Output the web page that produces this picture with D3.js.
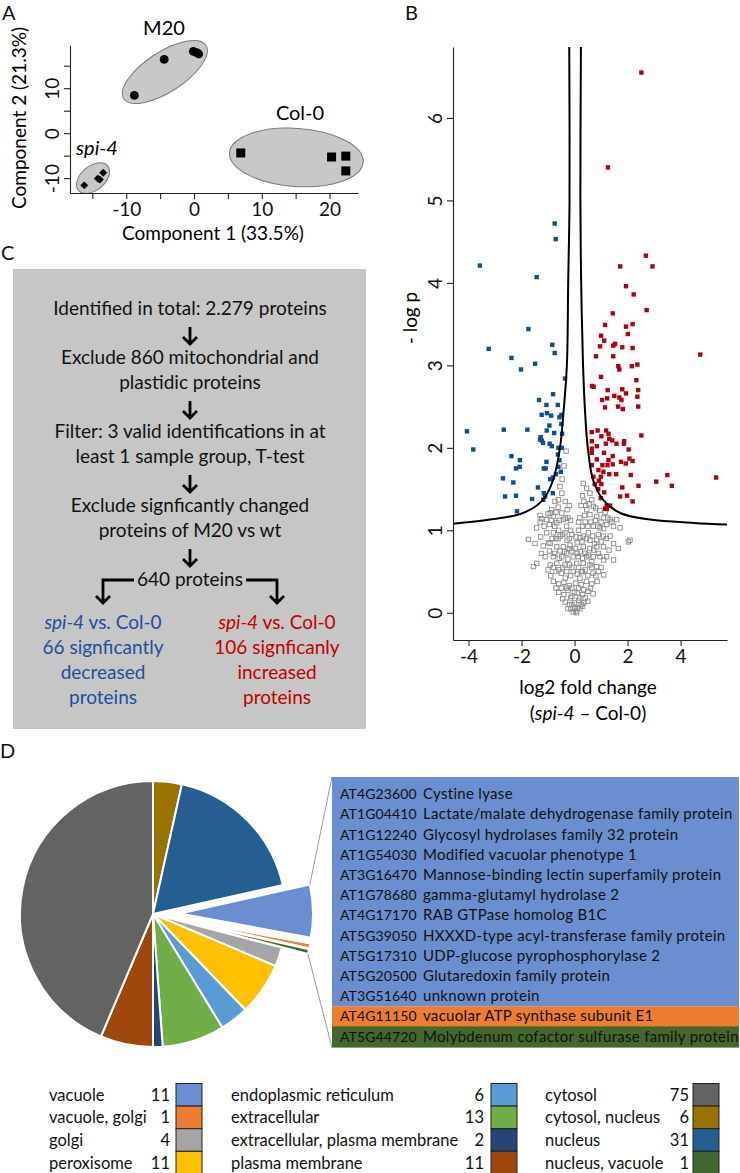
<!DOCTYPE html>
<html>
<head>
<meta charset="utf-8">
<script src="https://cdn.jsdelivr.net/npm/d3@7"></script>
<style>
body{margin:0;background:#fff;}
svg{display:block;font-family:Lato,"Noto Sans",sans-serif;}
</style>
</head>
<body>
<svg id="fig" width="740" height="1173"></svg>
<script>
// ---- panel A: PCA scores ----
var pcaSpi=[[-16.2,-11.6],[-14.2,-10.1],[-13.9,-10.3],[-13.4,-8.8]];
var pcaM20=[[-8.8,8.4],[-4.4,16.4],[-0.1,18.2],[0.4,17.9],[0.7,17.6]];
var pcaCol=[[6.9,-4.4],[20.3,-5.3],[22.4,-5.1],[22.4,-8.4]];
var pcaXTicks=[-15,-10,-5,0,5,10,15,20];
var pcaYTicks=[-10,-5,0,5,10,15];

// ---- panel B: volcano ----
var volDown=[[-0.75,4.72],[-0.71,4.53],[-3.57,4.21],[-1.43,4.07],
 [-1.74,3.44],[-3.24,3.20],[-0.84,3.25],[-0.75,3.15],[-2.38,3.09],[-1.49,3.02],[-2.02,2.95],[-0.36,2.84],
 [-1.34,2.58],[-0.81,2.65],[-1.06,2.52],[-0.63,2.52],[-1.24,2.40],[-1.04,2.42],[-0.88,2.39],[-0.50,2.40],
 [-0.57,2.37],[-0.95,2.27],[-0.50,2.29],[-4.06,2.20],[-2.67,2.22],[-1.78,2.22],[-1.05,2.21],[-0.77,2.18],
 [-0.47,2.17],[-1.28,2.13],[-1.24,2.09],[-1.19,2.06],[-0.94,2.05],[-1.30,2.10],[-3.82,1.98],[-0.86,2.02],
 [-0.61,2.00],[-0.48,2.00],[-0.63,1.92],[-2.38,1.90],[-2.06,1.85],[-1.06,1.83],[-0.57,1.85],[-2.21,1.75],
 [-2.07,1.77],[-1.16,1.75],[-1.09,1.75],[-0.61,1.77],[-0.70,1.68],[-0.52,1.71],[-2.70,1.63],[-0.92,1.62],
 [-0.82,1.64],[-2.31,1.58],[-1.38,1.52],[-2.62,1.41],[-2.21,1.42],[-1.60,1.38],[-1.16,1.45],[-1.11,1.41],
 [-1.18,1.37],[-0.82,1.45],[-2.17,1.23]];
var volUp=[[2.52,6.55],[1.26,5.40],[2.69,4.33],[1.72,4.20],[2.94,4.20],
 [1.94,3.96],[2.23,3.86],[2.72,3.67],[1.44,3.63],[1.15,3.49],[1.94,3.47],[2.19,3.50],[1.00,3.36],[2.01,3.38],
 [1.12,3.30],[0.96,3.23],[1.53,3.26],[1.46,3.24],[1.80,3.22],[2.19,3.21],[0.81,3.11],[1.46,3.11],[4.74,3.13],
 [2.37,3.01],[1.65,2.99],[1.69,2.95],[2.16,2.99],[1.00,2.86],[2.33,2.82],[0.66,2.75],[0.72,2.74],[1.25,2.70],
 [1.80,2.71],[2.40,2.70],[1.94,2.66],[1.50,2.63],[1.69,2.61],[1.23,2.60],[1.04,2.58],[1.77,2.58],[2.37,2.62],
 [1.64,2.50],[1.82,2.47],[1.15,2.49],[2.40,2.50],[0.87,2.21],[0.65,2.19],[1.19,2.21],[1.28,2.17],[1.01,2.14],
 [1.31,2.11],[2.52,2.15],[0.65,2.08],[1.42,2.09],[1.18,2.05],[1.58,2.05],[1.87,2.08],[1.86,2.05],[0.84,2.02],
 [0.65,1.99],[2.04,1.98],[0.65,1.94],[1.11,1.94],[1.44,1.90],[0.84,1.86],[1.28,1.85],[1.75,1.83],[1.93,1.81],
 [2.07,1.87],[2.19,1.84],[0.65,1.79],[1.05,1.79],[1.24,1.79],[1.44,1.80],[0.90,1.73],[1.09,1.71],[0.71,1.65],
 [0.99,1.65],[1.31,1.68],[1.57,1.68],[2.12,1.67],[3.50,1.67],[5.34,1.64],[0.92,1.60],[3.08,1.59],[0.76,1.56],
 [1.01,1.56],[2.41,1.54],[3.67,1.54],[0.89,1.50],[1.80,1.52],[1.12,1.46],[0.99,1.39],[1.72,1.41],[1.98,1.42],
 [2.19,1.35],[1.21,1.30],[1.34,1.30],[1.15,1.26],[1.22,1.26]];
var volNs=[[-0.32,1.96],[-0.40,1.78],[-0.47,1.62],[-0.55,1.53],[-0.48,1.45],[-0.61,1.37],[-0.74,1.35],
 [-0.86,1.25],[-0.92,1.21],[-0.80,1.17],[-1.24,1.14],[-1.05,1.13],[-0.95,1.07],[-0.67,1.09],[-0.48,1.21],
 [-0.42,1.13],[-0.30,1.05],[-0.36,0.97],[-0.55,0.93],[-0.80,0.97],[-1.05,0.97],[-1.43,1.03],[-1.74,0.89],
 [-1.49,0.84],[-1.18,0.81],[-0.92,0.84],[-0.67,0.80],[-0.42,0.80],[-0.17,0.82],[-1.11,0.68],[-0.80,0.68],
 [-0.48,0.68],[-0.92,0.58],[-0.67,0.60],[-1.43,0.60],[-1.55,0.56],[-0.36,0.58],
 [0.33,1.57],[0.46,1.51],[0.58,1.45],[0.65,1.37],[0.71,1.29],[0.46,1.25],[0.58,1.19],[0.84,1.17],[1.09,1.15],
 [1.34,1.13],[1.59,1.13],[1.72,1.03],[1.47,1.05],[1.21,1.07],[0.96,1.03],[0.71,1.05],[0.52,0.97],[0.33,0.93],
 [0.21,0.91],[0.58,0.88],[0.84,0.88],[1.09,0.93],[1.34,0.93],[1.47,0.84],[1.09,0.80],[0.84,0.80],[0.58,0.78],
 [0.33,0.80],[0.46,0.68],[0.71,0.68],[0.96,0.68],[1.21,0.68],[1.47,0.64],[0.33,0.60],[0.58,0.58],[0.84,0.56],
 [2.03,0.86],[2.09,0.88],[1.65,0.78],[0.08,0.60],[0.14,0.68],
 [-0.20,1.30],[-0.25,1.15],[-0.15,1.00],[-0.20,0.90],[-0.10,0.75],[-0.25,0.65],[-0.10,0.55],[0.10,0.85],
 [0.15,1.00],[0.20,1.15],[0.25,1.30],[0.30,1.42],[0.10,0.72],[0.25,0.50],[-0.60,1.00],[-0.70,0.90],[0.40,1.10],
 [0.50,1.05],[0.90,0.95],[1.00,1.10],[-0.55,0.75],[-0.30,0.72],[0.40,0.72],[0.65,0.62],
 [-0.90,0.45],[-0.70,0.50],[-0.50,0.48],[-0.30,0.50],[-0.15,0.45],[0.10,0.47],[0.30,0.50],[0.50,0.45],
 [0.70,0.48],[0.90,0.50],[1.10,0.46],[-0.80,0.38],[-0.60,0.35],[-0.40,0.37],[-0.20,0.33],[0.05,0.36],
 [0.25,0.34],[0.45,0.38],[0.65,0.35],[0.85,0.38],[-0.60,0.25],[-0.40,0.22],[-0.25,0.27],[-0.10,0.20],
 [0.10,0.24],[0.30,0.22],[0.50,0.26],[0.70,0.23],[-0.35,0.13],[-0.20,0.10],[0.00,0.12],[0.15,0.15],
 [0.35,0.12],[0.50,0.14],[-0.15,0.05],[0.05,0.02],[0.10,0.06],[-0.05,0.01],[0.20,0.05],
 [-0.35,1.35],[-0.28,1.25],[-0.62,1.28],[-0.70,1.22],[0.35,1.35],[0.42,1.30],[0.55,1.32],[0.80,1.27],
 [0.95,1.24],[1.15,1.22],[-1.00,1.20],[-1.30,1.18],[-0.15,1.12],[-0.35,1.15],[-0.58,1.12],[-0.75,1.05],
 [-0.88,1.12],[-1.15,1.05],[-1.30,1.10],[0.15,1.10],[0.30,1.05],[0.38,1.18],[0.62,1.10],[0.78,1.12],
 [0.88,1.05],[1.10,1.02],[1.25,1.15],[1.40,1.10],[-0.10,0.95],[-0.28,0.88],[-0.45,0.95],[-0.62,0.90],
 [-0.85,0.90],[-0.98,0.85],[-1.28,0.92],[0.05,0.92],[0.28,0.86],[0.45,0.90],[0.68,0.93],[0.75,0.84],
 [1.00,0.86],[1.20,0.90],[-0.05,0.68],[-0.20,0.78],[-0.38,0.74],[-0.58,0.66],[-0.75,0.72],[-0.95,0.75],
 [-1.25,0.72],[0.02,0.78],[0.22,0.74],[0.30,0.66],[0.52,0.70],[0.72,0.76],[0.90,0.72],[1.10,0.64],
 [1.30,0.76],[-0.05,0.50],[-0.20,0.58],[-0.45,0.55],[-0.60,0.52],[-0.80,0.55],[-1.00,0.52],[0.15,0.55],
 [0.40,0.52],[0.65,0.55],[0.80,0.45],[1.00,0.55],[-0.35,0.42],[0.20,0.42],[-0.10,0.30],[-0.30,0.30],
 [-0.50,0.30],[-0.70,0.30],[0.15,0.30],[0.35,0.28],[0.60,0.30],[0.40,0.18],[-0.15,0.18],[0.00,0.25],
 [0.20,0.18],[-0.45,0.17],[-0.25,0.05],[0.30,0.08],[-0.10,0.10],[0.25,0.10],[0.00,0.05],[0.08,0.00]];
// significance threshold curves
var thrLeft=[[-0.20,6.86],[-0.19,5.0],[-0.24,4.0],[-0.29,3.0],[-0.42,2.42],[-0.55,2.0],[-0.81,1.61],
 [-1.19,1.37],[-1.94,1.21],[-3.19,1.13],[-4.58,1.08]];
var thrRight=[[0.24,6.86],[0.22,5.0],[0.25,4.0],[0.32,3.0],[0.40,2.42],[0.50,2.0],[0.70,1.61],
 [1.08,1.37],[1.72,1.21],[2.85,1.13],[4.50,1.09],[5.75,1.07]];
var volXTicks=[-4,-2,0,2,4];
var volYTicks=[0,1,2,3,4,5,6];

// ---- panel C: workflow ----
var flowSteps=[
  ["Identified in total: 2.279 proteins"],
  ["Exclude 860 mitochondrial and","plastidic proteins"],
  ["Filter: 3 valid identifications in at","least 1 sample group, T-test"],
  ["Exclude signficantly changed","proteins of M20 vs wt"],
  ["640 proteins"]
];
var branchLeft=["66 signficantly","decreased","proteins"];
var branchRight=["106 signficanly","increased","proteins"];

// ---- panel D: localisation ----
var locNames=["vacuole","vacuole, golgi","golgi","peroxisome",
  "endoplasmic reticulum","extracellular","extracellular, plasma membrane","plasma membrane",
  "cytosol","cytosol, nucleus","nucleus","nucleus, vacuole"];
var locCounts=[11,1,4,11,6,13,2,11,75,6,31,1];
var locColors=["#6a8ed0","#ed7d31","#a5a5a5","#ffc000","#5b9bd5","#70ad47","#264478","#9e480e",
  "#636363","#997300","#255e91","#43682b"];
var pieOrder=["cytosol, nucleus","nucleus","vacuole","vacuole, golgi","nucleus, vacuole","golgi",
  "peroxisome","endoplasmic reticulum","extracellular","extracellular, plasma membrane","plasma membrane","cytosol"];
var explodedLocs=["vacuole","vacuole, golgi","nucleus, vacuole"];
var tableIds=["AT4G23600","AT1G04410","AT1G12240","AT1G54030","AT3G16470","AT1G78680","AT4G17170",
  "AT5G39050","AT5G17310","AT5G20500","AT3G51640","AT4G11150","AT5G44720"];
var tableDescs=["Cystine lyase","Lactate/malate dehydrogenase family protein","Glycosyl hydrolases family 32 protein",
  "Modified vacuolar phenotype 1","Mannose-binding lectin superfamily protein","gamma-glutamyl hydrolase 2",
  "RAB GTPase homolog B1C","HXXXD-type acyl-transferase family protein","UDP-glucose pyrophosphorylase 2",
  "Glutaredoxin family protein","unknown protein","vacuolar ATP synthase subunit E1","Molybdenum cofactor sulfurase family protein"];
var tableLocs=["vacuole","vacuole","vacuole","vacuole","vacuole","vacuole","vacuole","vacuole","vacuole",
  "vacuole","vacuole","vacuole, golgi","nucleus, vacuole"];

var colorOf=d3.scaleOrdinal().domain(locNames).range(locColors);
var countOf={};locNames.forEach(function(n,i){countOf[n]=locCounts[i];});

var FS=19; // main text size
var svg=d3.select("#fig");
svg.append("rect").attr("width",740).attr("height",1173).attr("fill","#fff");

function panelLabel(t,x,y){
  svg.append("text").attr("x",x).attr("y",y).attr("font-size",20).attr("fill","#111").text(t);
}

// R-like axes: outward ticks, labels parallel to axis
function styleAxis(g,vertical){
  g.select(".domain").attr("stroke","#222").attr("stroke-width",1.1);
  g.selectAll(".tick line").attr("stroke","#222").attr("stroke-width",1.1);
  g.selectAll(".tick text").attr("font-size",FS).attr("fill","#111").attr("font-family","Lato");
  if(vertical){
    g.selectAll(".tick text").attr("transform","rotate(-90)").attr("x",0).attr("y",-18)
      .attr("dy","0.36em").attr("text-anchor","middle");
  } else {
    g.selectAll(".tick text").attr("y",16).attr("dy","0.36em");
  }
}

// ================= A =================
panelLabel("A",2,20);
var xA=d3.scaleLinear().domain([-18.3,24.2]).range([70,358]);
var yA=d3.scaleLinear().domain([-13.3,19.6]).range([193,45]);
var gA=svg.append("g");

var ellipses=[
  {pts:pcaSpi,c:[-14.9,-10.0],rx:19,ry:12,rot:-40},
  {pts:pcaM20,c:[-4.3,13.6],rx:49,ry:20,rot:-33},
  {pts:pcaCol,c:[15.1,-5.4],rx:67,ry:29,rot:4}
];
gA.selectAll("ellipse").data(ellipses).enter().append("ellipse")
  .attr("transform",function(d){return "translate("+xA(d.c[0])+","+yA(d.c[1])+") rotate("+d.rot+")";})
  .attr("rx",function(d){return d.rx;}).attr("ry",function(d){return d.ry;})
  .attr("fill","#c8c8c8").attr("stroke","#7a7a7a").attr("stroke-width",1);

gA.selectAll(".spi").data(pcaSpi).enter().append("path")
  .attr("d",d3.symbol(d3.symbolDiamond2,40))
  .attr("transform",function(d){return "translate("+xA(d[0])+","+yA(d[1])+")";}).attr("fill","#000");
gA.selectAll(".m20").data(pcaM20).enter().append("circle")
  .attr("cx",function(d){return xA(d[0]);}).attr("cy",function(d){return yA(d[1]);})
  .attr("r",4.4).attr("fill","#000");
gA.selectAll(".col").data(pcaCol).enter().append("rect")
  .attr("x",function(d){return xA(d[0])-4.5;}).attr("y",function(d){return yA(d[1])-4.5;})
  .attr("width",9).attr("height",9).attr("fill","#000");

var axAx=gA.append("g").attr("transform","translate(0,193)")
  .call(d3.axisBottom(xA).tickValues(pcaXTicks).tickSize(6).tickSizeOuter(0)
    .tickFormat(function(d){return d%10===0?String(d):"";}));
styleAxis(axAx,false);
var axAy=gA.append("g").attr("transform","translate(70,0)")
  .call(d3.axisLeft(yA).tickValues(pcaYTicks).tickSize(6).tickSizeOuter(0)
    .tickFormat(function(d){return d%10===0?String(d):"";}));
styleAxis(axAy,true);

gA.append("text").attr("x",164).attr("y",35).attr("text-anchor","middle").attr("font-size",20).text("M20");
gA.append("text").attr("x",300).attr("y",120).attr("text-anchor","middle").attr("font-size",20).text("Col-0");
gA.append("text").attr("x",97).attr("y",155).attr("text-anchor","middle").attr("font-size",20)
  .attr("font-style","italic").text("spi-4");
gA.append("text").attr("x",213).attr("y",240).attr("text-anchor","middle").attr("font-size",FS).text("Component 1 (33.5%)");
gA.append("text").attr("transform","translate(26,118) rotate(-90)").attr("text-anchor","middle")
  .attr("font-size",FS).text("Component 2 (21.3%)");

// ================= B =================
panelLabel("B",405,20);
var xB=d3.scaleLinear().domain([-4.585,5.75]).range([453,727]);
var yB=d3.scaleLinear().domain([-0.33,6.86]).range([640,47]);
var gB=svg.append("g");

gB.selectAll(".ns").data(volNs).enter().append("rect")
  .attr("x",function(d){return xB(d[0])-2.2;}).attr("y",function(d){return yB(d[1])-2.2;})
  .attr("width",4.4).attr("height",4.4).attr("fill","none").attr("stroke","#8a8a8a").attr("stroke-width",0.9);
gB.selectAll(".dn").data(volDown).enter().append("rect")
  .attr("x",function(d){return xB(d[0])-2.2;}).attr("y",function(d){return yB(d[1])-2.2;})
  .attr("width",4.4).attr("height",4.4).attr("fill","#0e4d9b");
gB.selectAll(".up").data(volUp).enter().append("rect")
  .attr("x",function(d){return xB(d[0])-2.2;}).attr("y",function(d){return yB(d[1])-2.2;})
  .attr("width",4.4).attr("height",4.4).attr("fill","#b3000f");

var thrLine=d3.line().x(function(d){return xB(d[0]);}).y(function(d){return yB(d[1]);})
  .curve(d3.curveCatmullRom.alpha(0.5));
[thrLeft,thrRight].forEach(function(c){
  gB.append("path").attr("d",thrLine(c)).attr("fill","none").attr("stroke","#000").attr("stroke-width",2);
});

var axBx=gB.append("g").attr("transform","translate(0,640)")
  .call(d3.axisBottom(xB).tickValues(volXTicks).tickSize(6).tickSizeOuter(0).tickFormat(function(d){return String(d);}));
styleAxis(axBx,false);
var axBy=gB.append("g").attr("transform","translate(453,0)")
  .call(d3.axisLeft(yB).tickValues(volYTicks).tickSize(6).tickSizeOuter(0).tickFormat(function(d){return String(d);}));
styleAxis(axBy,true);

gB.append("text").attr("x",588).attr("y",694).attr("text-anchor","middle").attr("font-size",FS).text("log2 fold change");
var t2=gB.append("text").attr("x",588).attr("y",720).attr("text-anchor","middle").attr("font-size",FS);
t2.append("tspan").text("(");
t2.append("tspan").attr("font-style","italic").text("spi-4");
t2.append("tspan").text(" \u2013 Col-0)");
gB.append("text").attr("transform","translate(417,318) rotate(-90)").attr("text-anchor","middle")
  .attr("font-size",FS).text("- log p");

// ================= C =================
panelLabel("C",1,260);
var gC=svg.append("g");
gC.append("rect").attr("x",13).attr("y",269).attr("width",353).attr("height",460).attr("fill","#c6c6c6");

function downArrow(g,x,y0,y1){
  g.append("path").attr("d","M"+x+","+y0+"V"+y1+"M"+(x-7)+","+(y1-7)+"L"+x+","+y1+"L"+(x+7)+","+(y1-7))
    .attr("fill","none").attr("stroke","#000").attr("stroke-width",2.8);
}
var lineIdx=0,prevY=null,cx=190;
flowSteps.forEach(function(step,gi){
  step.forEach(function(txt,li){
    var yc=308+25*lineIdx+24*gi;
    if(li===0&&prevY!==null) downArrow(gC,cx,prevY+19,yc-13);
    gC.append("text").attr("x",cx).attr("y",yc+7).attr("text-anchor","middle").attr("font-size",FS)
      .attr("fill","#111").text(txt);
    prevY=yc;lineIdx++;
  });
});
// branch to the two result groups
gC.append("path").attr("d","M134,580H103V603M96,596L103,603L110,596")
  .attr("fill","none").attr("stroke","#000").attr("stroke-width",2.8);
gC.append("path").attr("d","M246,580H277V603M270,596L277,603L284,596")
  .attr("fill","none").attr("stroke","#000").attr("stroke-width",2.8);

function branch(x,lines,color){
  var t=gC.append("text").attr("x",x).attr("y",629).attr("text-anchor","middle").attr("font-size",FS).attr("fill",color);
  t.append("tspan").attr("font-style","italic").text("spi-4");
  t.append("tspan").text(" vs. Col-0");
  lines.forEach(function(s,i){
    gC.append("text").attr("x",x).attr("y",654+25*i).attr("text-anchor","middle").attr("font-size",FS)
      .attr("fill",color).text(s);
  });
}
branch(103,branchLeft,"#1f4e9c");
branch(277,branchRight,"#c00000");

// ================= D =================
panelLabel("D",0,758);
var gD=svg.append("g");
var pieC=[153,914],pieR=133,explode=27;
var pieData=d3.pie().sort(null).value(function(d){return countOf[d];})(pieOrder);
var arc=d3.arc().innerRadius(0).outerRadius(pieR);
function offsetOf(d){
  if(explodedLocs.indexOf(d.data)<0) return [0,0];
  var m=(d.startAngle+d.endAngle)/2;
  return [explode*Math.sin(m),-explode*Math.cos(m)];
}
gD.selectAll("path.slice").data(pieData).enter().append("path").attr("class","slice")
  .attr("d",arc)
  .attr("transform",function(d){var o=offsetOf(d);return "translate("+(pieC[0]+o[0])+","+(pieC[1]+o[1])+")";})
  .attr("fill",function(d){return colorOf(d.data);}).attr("stroke","#fff").attr("stroke-width",2);

// leader lines from the exploded part to the table
var ex=pieData.filter(function(d){return explodedLocs.indexOf(d.data)>=0;});
var first=ex[0],last=ex[ex.length-1];
function rimPoint(d,a){var o=offsetOf(d);return [pieC[0]+o[0]+pieR*Math.sin(a),pieC[1]+o[1]-pieR*Math.cos(a)];}
var pTop=rimPoint(first,first.startAngle),pBot=rimPoint(last,last.endAngle);
var tabX=332,tabY=777,tabW=407,rowH=20.2,tabPad=6;
gD.append("line").attr("x1",pTop[0]).attr("y1",pTop[1]).attr("x2",tabX).attr("y2",tabY)
  .attr("stroke","#9a9a9a").attr("stroke-width",1);
var tabBottom=tabY+tabPad+rowH*tableIds.length+2;
gD.append("line").attr("x1",pBot[0]).attr("y1",pBot[1]).attr("x2",tabX).attr("y2",tabBottom)
  .attr("stroke","#9a9a9a").attr("stroke-width",1);

// table
var nVac=tableLocs.filter(function(l){return l==="vacuole";}).length;
gD.append("rect").attr("x",tabX).attr("y",tabY).attr("width",tabW).attr("height",tabPad+rowH*nVac+1)
  .attr("fill",colorOf("vacuole"));
tableLocs.forEach(function(l,i){
  if(l==="vacuole") return;
  gD.append("rect").attr("x",tabX).attr("y",tabY+tabPad+rowH*i+1).attr("width",tabW).attr("height",rowH+1)
    .attr("fill",colorOf(l));
});
tableIds.forEach(function(id,i){
  var yb=tabY+tabPad+rowH*i+rowH/2+6;
  gD.append("text").attr("x",340).attr("y",yb).attr("font-size",14).attr("letter-spacing",0.1)
    .attr("fill","#111").text(id);
  gD.append("text").attr("x",423).attr("y",yb).attr("font-size",15).attr("letter-spacing",0.3)
    .attr("fill","#111").text(tableDescs[i]);
});

// legend
var legCols=[{tx:49,nx:170,sx:176},{tx:231,nx:484,sx:491},{tx:545,nx:689,sx:693}];
var legTop=1083.5,legH=22.6;
locNames.forEach(function(n,i){
  var c=legCols[Math.floor(i/4)],r=i%4,yc=legTop+legH*r+legH/2;
  gD.append("text").attr("x",c.tx).attr("y",yc+6).attr("font-size",16.5).attr("fill","#111").text(n);
  gD.append("text").attr("x",c.nx).attr("y",yc+6).attr("text-anchor","end").attr("font-size",16.5)
    .attr("fill","#111").text(locCounts[i]);
  gD.append("rect").attr("x",c.sx).attr("y",legTop+legH*r).attr("width",26).attr("height",legH)
    .attr("fill",colorOf(n)).attr("stroke","#222").attr("stroke-width",1);
});
</script>
</body>
</html>
